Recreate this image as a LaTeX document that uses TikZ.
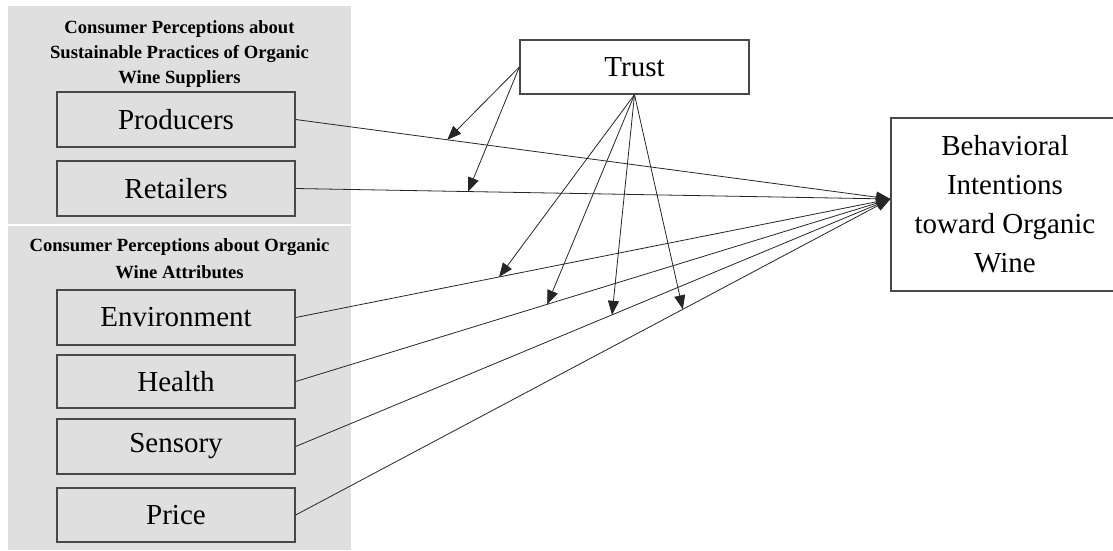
\documentclass[tikz,border=0pt]{standalone}
\usepackage{fontspec}
\setmainfont{Liberation Serif}
\usetikzlibrary{arrows.meta,calc}
\definecolor{panel}{HTML}{DFDFDF}
\definecolor{edge}{HTML}{484848}
\begin{document}
\begin{tikzpicture}[x=1pt,y=-1pt,
  box/.style={draw=edge,line width=1.3pt,minimum width=238pt,minimum height=55pt,inner sep=0pt,font=\fontsize{29}{39}\selectfont},
  wbox/.style={box,fill=white},
  ttl/.style={align=center,inner sep=0pt,font=\fontsize{18.6}{25}\selectfont\bfseries},
  conn/.style={draw=black!85,line width=0.8pt,-{Triangle[length=14pt,width=11pt]}},
]
\useasboundingbox (0,0) rectangle (1113,550);
\fill[panel] (8,6) rectangle (351,224);
\fill[panel] (8,226) rectangle (351,550);

\node[ttl] (t1) at (179.5,53.7) {Consumer Perceptions about\\Sustainable Practices of Organic\\Wine Suppliers};
\node[ttl,font=\fontsize{18.6}{26.5}\selectfont\bfseries] (t2) at (179.5,258.5) {Consumer Perceptions about Organic\\Wine Attributes};

\node[box] (prod) at (176,119.5) {Producers};
\node[box] (ret) at (176,188.5) {Retailers};
\node[box] (env) at (176,317.5) {Environment};
\node[box,minimum height=53pt] (hea) at (176,381.5) {Health};
\node[box] (sen) at (176,446.5) {Sensory};
\node[box,minimum height=54pt] (pri) at (176,515) {Price};
\node[wbox,minimum width=229pt,minimum height=54pt] (trust) at (634.5,67) {Trust};
\node[wbox,minimum width=228pt,minimum height=173pt,align=center] (bi) at (1005,204.5) {Behavioral\\Intentions\\toward Organic\\Wine};

\coordinate (tip) at ([yshift=5.5pt]bi.west);

\foreach \n in {prod,ret,env,hea,sen,pri} \draw[conn] (\n.east) -- (tip);

\path (prod.east) -- (tip) coordinate[pos=0.255] (mprod);
\path (ret.east) -- (tip) coordinate[pos=0.29] (mret);
\path (env.east) -- (tip) coordinate[pos=0.342] (menv);
\path (hea.east) -- (tip) coordinate[pos=0.423] (mhea);
\path (sen.east) -- (tip) coordinate[pos=0.532] (msen);
\path (pri.east) -- (tip) coordinate[pos=0.651] (mpri);

\draw[conn] (trust.west) -- (mprod);
\draw[conn] (trust.west) -- (mret);
\draw[conn] (trust.south) -- (menv);
\draw[conn] (trust.south) -- (mhea);
\draw[conn] (trust.south) -- (msen);
\draw[conn] (trust.south) -- (mpri);
\end{tikzpicture}
\end{document}
